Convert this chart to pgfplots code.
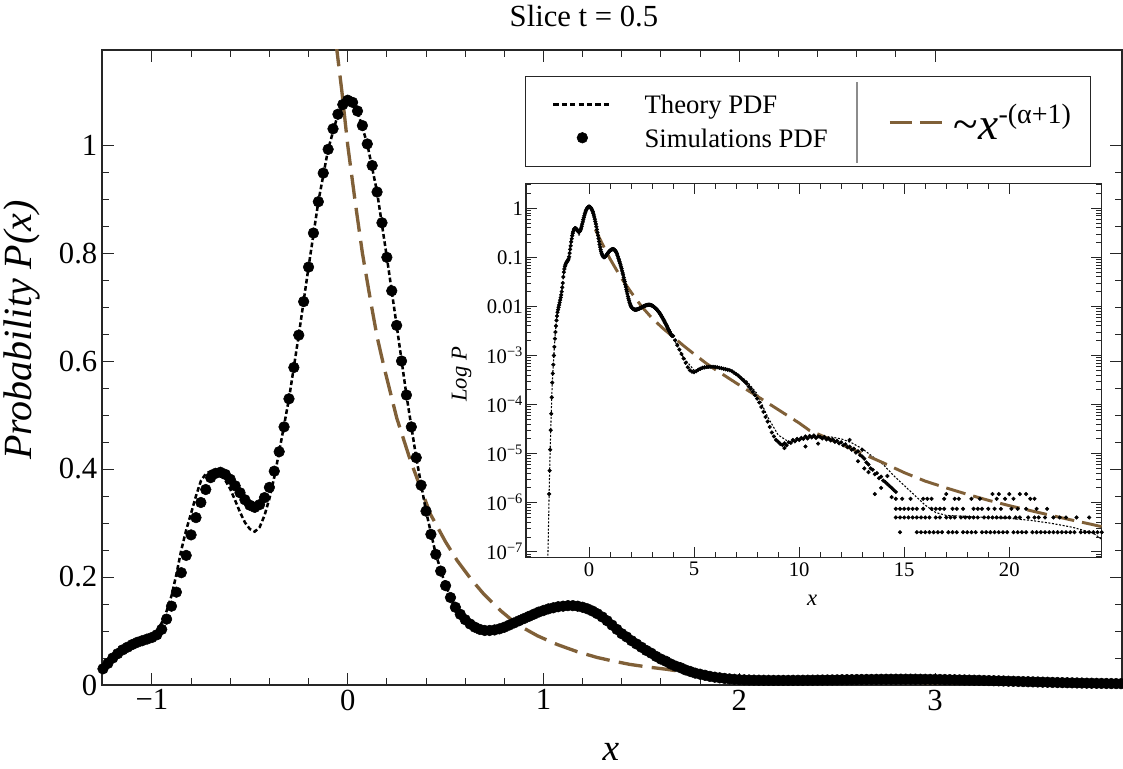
\documentclass[border=0pt]{standalone}
\usepackage{fontspec}
\setmainfont{Liberation Serif}
\usepackage{pgfplots}
\usepackage{pgfplotstable}
\pgfplotsset{compat=1.18}
\definecolor{plaw}{RGB}{128,96,56}
\pgfplotsset{
  thlegend/.style={legend image code/.code={\draw[##1, dash pattern=on 4pt off 2.3pt] (0pt,0pt) -- (43.5pt,0pt);}},
  simlegend/.style={legend image code/.code={\draw[##1, only marks, mark repeat=2, mark phase=2] plot coordinates {(0pt,0pt) (21.75pt,0pt) (43.5pt,0pt)};}},
  pllegend/.style={legend image code/.code={\draw[##1, dash pattern=on 16.5pt off 6pt] (0pt,0pt) -- (39pt,0pt);}},
}

% simulation PDF, main range
\pgfplotstableread{
x y
-1.250 0.030
-1.225 0.040
-1.200 0.050
-1.175 0.058
-1.150 0.065
-1.125 0.070
-1.100 0.075
-1.075 0.079
-1.050 0.082
-1.025 0.085
-1.000 0.088
-0.975 0.093
-0.950 0.103
-0.925 0.122
-0.900 0.146
-0.875 0.172
-0.850 0.208
-0.825 0.240
-0.800 0.278
-0.775 0.310
-0.750 0.338
-0.725 0.362
-0.700 0.384
-0.675 0.392
-0.650 0.394
-0.625 0.390
-0.600 0.381
-0.575 0.369
-0.550 0.356
-0.525 0.343
-0.500 0.333
-0.475 0.329
-0.450 0.334
-0.425 0.347
-0.400 0.366
-0.375 0.396
-0.350 0.432
-0.325 0.478
-0.300 0.530
-0.275 0.588
-0.250 0.648
-0.225 0.710
-0.200 0.774
-0.175 0.837
-0.150 0.895
-0.125 0.948
-0.100 0.992
-0.075 1.030
-0.050 1.057
-0.025 1.075
0.000 1.083
0.025 1.079
0.050 1.063
0.075 1.036
0.100 1.002
0.125 0.962
0.150 0.913
0.175 0.856
0.200 0.792
0.225 0.730
0.250 0.666
0.275 0.600
0.300 0.537
0.325 0.478
0.350 0.421
0.375 0.370
0.400 0.322
0.425 0.279
0.450 0.242
0.475 0.211
0.500 0.184
0.525 0.162
0.550 0.144
0.575 0.131
0.600 0.121
0.625 0.113
0.650 0.107
0.675 0.103
0.700 0.101
0.725 0.101
0.750 0.102
0.775 0.104
0.800 0.107
0.825 0.111
0.850 0.115
0.875 0.119
0.900 0.123
0.925 0.127
0.950 0.131
0.975 0.135
1.000 0.138
1.025 0.141
1.050 0.143
1.075 0.145
1.100 0.146
1.125 0.147
1.150 0.147
1.175 0.146
1.200 0.144
1.225 0.141
1.250 0.137
1.275 0.132
1.300 0.126
1.325 0.119
1.350 0.111
1.375 0.103
1.400 0.095
1.425 0.089
1.450 0.082
1.475 0.076
1.500 0.070
1.525 0.064
1.550 0.059
1.575 0.053
1.600 0.048
1.625 0.044
1.650 0.039
1.675 0.035
1.700 0.032
1.725 0.028
1.750 0.025
1.775 0.022
1.800 0.020
1.825 0.018
1.850 0.016
1.875 0.0145
1.900 0.0133
1.925 0.0122
1.950 0.0113
1.975 0.0106
2.000 0.0100
2.025 0.0096
2.050 0.0093
2.075 0.0091
2.100 0.0089
2.125 0.0088
2.150 0.0087
2.175 0.0086
2.200 0.0086
2.225 0.0086
2.250 0.0086
2.275 0.0087
2.300 0.0087
2.325 0.0088
2.350 0.0089
2.375 0.0090
2.400 0.0091
2.425 0.0092
2.450 0.0093
2.475 0.0094
2.500 0.0095
2.525 0.0097
2.550 0.0098
2.575 0.0099
2.600 0.0101
2.625 0.0102
2.650 0.0103
2.675 0.0104
2.700 0.0105
2.725 0.0106
2.750 0.0107
2.775 0.0107
2.800 0.0108
2.825 0.0108
2.850 0.0108
2.875 0.0108
2.900 0.0108
2.925 0.0107
2.950 0.0106
2.975 0.0105
3.000 0.0104
3.025 0.0103
3.050 0.0101
3.075 0.0099
3.100 0.0097
3.125 0.0095
3.150 0.0093
3.175 0.0091
3.200 0.0089
3.225 0.0087
3.250 0.0084
3.275 0.0082
3.300 0.0079
3.325 0.0077
3.350 0.0074
3.375 0.0071
3.400 0.0069
3.425 0.0066
3.450 0.0063
3.475 0.0061
3.500 0.0058
3.525 0.0056
3.550 0.0053
3.575 0.0051
3.600 0.0048
3.625 0.0046
3.650 0.0044
3.675 0.0042
3.700 0.0040
3.725 0.0038
3.750 0.0036
3.775 0.0034
3.800 0.0033
3.825 0.0031
3.850 0.0030
3.875 0.0028
3.900 0.0027
3.925 0.0026
3.950 0.0025
}\simmain

% theory PDF, main range
\pgfplotstableread{
x y
-1.25 0.030
-1.20 0.050
-1.15 0.065
-1.10 0.075
-1.05 0.082
-1.00 0.090
-0.975 0.100
-0.95 0.115
-0.925 0.137
-0.90 0.165
-0.875 0.205
-0.85 0.250
-0.825 0.287
-0.80 0.318
-0.775 0.350
-0.75 0.378
-0.725 0.391
-0.70 0.396
-0.675 0.396
-0.65 0.390
-0.625 0.379
-0.60 0.363
-0.575 0.342
-0.55 0.320
-0.525 0.301
-0.50 0.289
-0.475 0.284
-0.45 0.292
-0.425 0.314
-0.40 0.345
-0.375 0.385
-0.35 0.432
-0.30 0.530
-0.25 0.648
-0.20 0.774
-0.15 0.895
-0.10 0.992
-0.05 1.057
0.00 1.083
0.05 1.063
0.10 1.002
0.15 0.913
0.20 0.792
0.25 0.666
0.30 0.537
0.35 0.421
0.40 0.322
0.45 0.242
0.50 0.184
0.55 0.144
0.60 0.121
0.65 0.107
0.70 0.101
0.75 0.102
0.80 0.107
0.85 0.115
0.90 0.123
0.95 0.131
1.00 0.138
1.05 0.143
1.10 0.146
1.15 0.147
1.20 0.144
1.25 0.137
1.30 0.126
1.35 0.111
1.40 0.095
1.45 0.082
1.50 0.070
1.55 0.059
1.60 0.048
1.65 0.039
1.70 0.032
1.75 0.025
1.80 0.020
1.85 0.016
1.90 0.0133
1.95 0.0113
2.00 0.0100
2.10 0.0089
2.20 0.0086
2.30 0.0087
2.40 0.0091
2.50 0.0095
2.60 0.0101
2.70 0.0105
2.80 0.0108
2.90 0.0108
3.00 0.0104
3.10 0.0097
3.20 0.0089
3.30 0.0079
3.40 0.0069
3.50 0.0058
3.60 0.0048
3.70 0.0040
3.80 0.0033
3.90 0.0027
3.95 0.0025
}\thmain

% power law, main axis
\pgfplotstableread{
x y
-0.060 1.19
-0.030 1.10
0.000 1.00
0.040 0.89
0.075 0.80
0.117 0.711
0.150 0.645
0.186 0.588
0.250 0.495
0.321 0.415
0.423 0.316
0.500 0.265
0.560 0.230
0.630 0.196
0.696 0.168
0.780 0.138
0.866 0.112
0.970 0.091
1.070 0.075
1.170 0.062
1.274 0.051
1.360 0.044
1.444 0.038
1.540 0.033
1.631 0.029
1.720 0.024
1.801 0.020
1.900 0.017
2.000 0.0145
2.250 0.0100
2.500 0.0072
2.750 0.0054
3.000 0.0042
3.500 0.0027
3.950 0.0019
}\plmain

% inset: left tail of simulations
\pgfplotstableread{
x y
-1.900 1.5e-6
-1.875 4.5e-6
-1.850 1.2e-5
-1.825 3.0e-5
-1.800 6.5e-5
-1.775 1.4e-4
-1.750 2.8e-4
-1.725 4.3e-4
-1.700 6.5e-4
-1.675 1.0e-3
-1.650 1.5e-3
-1.625 2.2e-3
-1.600 3.0e-3
-1.575 4.0e-3
-1.550 5.2e-3
-1.525 6.4e-3
-1.500 7.6e-3
-1.475 8.6e-3
-1.450 9.6e-3
-1.425 1.07e-2
-1.400 1.20e-2
-1.375 1.35e-2
-1.350 1.52e-2
-1.325 1.72e-2
-1.300 2.00e-2
-1.275 2.45e-2
}\simleft

% inset: right part of simulations
\pgfplotstableread{
x y
4.0 2.51e-3
4.1 2.04e-3
4.2 1.62e-3
4.3 1.32e-3
4.4 1.07e-3
4.5 8.7e-4
4.6 7.1e-4
4.7 5.75e-4
4.8 5.0e-4
4.9 4.68e-4
5.0 4.57e-4
5.1 4.79e-4
5.2 5.13e-4
5.3 5.37e-4
5.4 5.62e-4
5.5 5.75e-4
5.6 5.82e-4
5.7 5.89e-4
5.8 5.89e-4
5.9 5.89e-4
6.0 5.82e-4
6.1 5.75e-4
6.2 5.62e-4
6.3 5.5e-4
6.4 5.37e-4
6.5 5.25e-4
6.6 5.13e-4
6.7 5.0e-4
6.8 4.79e-4
6.9 4.47e-4
7.0 4.17e-4
7.1 3.89e-4
7.2 3.55e-4
7.3 3.24e-4
7.4 2.95e-4
7.5 2.69e-4
7.6 2.34e-4
7.7 2.09e-4
7.8 1.82e-4
7.9 1.55e-4
8.0 1.32e-4
8.1 1.10e-4
8.2 8.9e-5
8.3 7.1e-5
8.4 5.6e-5
8.5 4.5e-5
8.6 3.5e-5
8.7 2.7e-5
8.8 2.24e-5
8.9 1.9e-5
9.0 1.74e-5
9.1 1.58e-5
9.2 1.51e-5
9.3 1.62e-5
9.4 1.48e-5
9.5 1.70e-5
9.6 1.66e-5
9.7 1.9e-5
9.8 1.78e-5
9.9 2.0e-5
10.0 1.9e-5
10.1 2.09e-5
10.2 2.0e-5
10.3 2.24e-5
10.4 2.04e-5
10.5 2.29e-5
10.6 2.14e-5
10.7 2.34e-5
10.8 2.09e-5
10.9 2.24e-5
11.0 2.19e-5
11.1 2.04e-5
11.2 2.19e-5
11.3 1.95e-5
11.4 2.04e-5
11.5 1.86e-5
11.6 1.95e-5
11.7 1.74e-5
11.8 1.82e-5
11.9 1.62e-5
12.0 1.70e-5
12.1 1.48e-5
12.2 1.55e-5
12.3 1.35e-5
12.4 1.38e-5
12.5 1.20e-5
12.6 1.26e-5
12.7 1.05e-5
12.8 1.12e-5
12.9 9.3e-6
13.0 8.7e-6
13.1 7.9e-6
13.2 6.6e-6
13.3 6.0e-6
13.4 5.0e-6
13.5 4.7e-6
13.6 3.8e-6
13.7 4.0e-6
13.8 3.16e-6
13.9 3.4e-6
14.0 2.82e-6
14.1 2.63e-6
14.2 2.4e-6
14.3 2.19e-6
14.4 2.0e-6
14.5 1.82e-6
14.6 1.66e-6
9.3 1.3e-5
10.3 1.4e-5
10.9 1.6e-5
12.4 1.9e-5
13.0 1.2e-5
13.3 4.2e-6
13.6 1.5e-6
13.9 2.0e-6
14.2 3.5e-6
14.4 1.3e-6
13.1 5.0e-6
12.8 7.0e-6
}\simright

% inset: discrete count levels of simulations
\pgfplotstableread{
x y
14.8 2.5e-7
15.6 2.5e-7
15.8 2.5e-7
16.0 2.5e-7
16.2 2.5e-7
16.4 2.5e-7
16.6 2.5e-7
16.8 2.5e-7
17.1 2.5e-7
17.3 2.5e-7
17.5 2.5e-7
17.8 2.5e-7
18.0 2.5e-7
18.2 2.5e-7
18.4 2.5e-7
18.7 2.5e-7
18.9 2.5e-7
19.1 2.5e-7
19.3 2.5e-7
19.5 2.5e-7
19.7 2.5e-7
19.9 2.5e-7
20.2 2.5e-7
20.4 2.5e-7
20.6 2.5e-7
20.8 2.5e-7
21.1 2.5e-7
21.3 2.5e-7
21.5 2.5e-7
21.7 2.5e-7
21.9 2.5e-7
22.1 2.5e-7
22.3 2.5e-7
22.5 2.5e-7
22.7 2.5e-7
22.9 2.5e-7
23.1 2.5e-7
23.4 2.5e-7
23.6 2.5e-7
23.8 2.5e-7
24.0 2.5e-7
24.2 2.5e-7
24.4 2.5e-7
14.6 5e-7
14.8 5e-7
15.0 5e-7
15.2 5e-7
15.4 5e-7
15.6 5e-7
15.8 5e-7
16.0 5e-7
16.2 5e-7
16.5 5e-7
16.7 5e-7
17.0 5e-7
17.2 5e-7
17.4 5e-7
17.7 5e-7
17.9 5e-7
18.1 5e-7
18.3 5e-7
18.5 5e-7
18.8 5e-7
19.0 5e-7
19.2 5e-7
19.4 5e-7
19.6 5e-7
19.8 5e-7
20.0 5e-7
20.3 5e-7
20.5 5e-7
20.9 5e-7
21.2 5e-7
21.4 5e-7
21.7 5e-7
22.1 5e-7
22.4 5e-7
22.7 5e-7
23.2 5e-7
23.8 5e-7
14.6 7.5e-7
14.8 7.5e-7
15.0 7.5e-7
15.2 7.5e-7
15.4 7.5e-7
15.6 7.5e-7
15.9 7.5e-7
16.3 7.5e-7
16.5 7.5e-7
16.7 7.5e-7
16.9 7.5e-7
17.3 7.5e-7
17.5 7.5e-7
17.8 7.5e-7
18.3 7.5e-7
18.5 7.5e-7
18.7 7.5e-7
19.0 7.5e-7
19.3 7.5e-7
19.6 7.5e-7
20.1 7.5e-7
20.4 7.5e-7
20.8 7.5e-7
21.3 7.5e-7
21.8 7.5e-7
14.6 1.2e-6
14.9 1.2e-6
15.3 1.2e-6
15.9 1.2e-6
16.1 1.2e-6
16.3 1.2e-6
16.9 1.2e-6
17.4 1.2e-6
17.6 1.2e-6
18.2 1.2e-6
18.6 1.2e-6
19.4 1.2e-6
19.8 1.2e-6
20.2 1.2e-6
21.0 1.2e-6
21.2 1.2e-6
17.0 1.5e-6
19.2 1.5e-6
19.5 1.5e-6
20.0 1.5e-6
20.5 1.5e-6
20.8 1.5e-6
}\simrows

% inset: theory tails
\pgfplotstableread{
x y
-1.970 5e-8
-1.950 1.2e-7
-1.925 4e-7
-1.900 1.5e-6
-1.875 4.5e-6
-1.850 1.2e-5
-1.800 6.5e-5
-1.750 2.8e-4
-1.700 6.5e-4
-1.650 1.5e-3
-1.600 3.0e-3
-1.550 5.2e-3
-1.500 7.6e-3
-1.450 9.6e-3
-1.400 1.2e-2
-1.350 1.52e-2
-1.300 2.0e-2
-1.250 3.0e-2
}\thleft

\pgfplotstableread{
x y
3.95 2.5e-3
4.0 2.3e-3
4.5 9.0e-4
5.0 5.0e-4
5.5 5.37e-4
6.0 6.03e-4
6.5 5.5e-4
7.0 4.37e-4
7.5 3.02e-4
8.0 1.66e-4
8.5 5.6e-5
9.0 2.4e-5
9.5 1.74e-5
10.0 1.9e-5
10.5 2.19e-5
11.0 2.24e-5
11.5 2.19e-5
12.0 2.0e-5
12.5 1.66e-5
13.0 1.26e-5
13.5 8.7e-6
14.0 6.0e-6
14.5 3.55e-6
15.0 2.24e-6
15.5 1.41e-6
16.0 8.9e-7
16.5 6.3e-7
17.0 5.5e-7
18.0 5.25e-7
19.0 5.0e-7
20.0 4.8e-7
21.0 4.37e-7
22.0 3.8e-7
23.0 3.16e-7
24.0 2.4e-7
24.4 1.78e-7
}\thright

% inset: power law
\pgfplotstableread{
x y
0.3 0.37
0.6 0.20
1.0 0.093
1.5 0.040
2.0 0.0195
2.5 0.0100
3.0 5.75e-3
3.5 3.63e-3
4.0 2.4e-3
4.5 1.58e-3
5.0 1.07e-3
5.58 6.9e-4
6.0 5.2e-4
7.0 2.75e-4
8.0 1.48e-4
9.0 7.9e-5
10.0 4.2e-5
10.5 2.95e-5
11.0 2.4e-5
12.0 1.55e-5
13.0 1.0e-5
14.0 6.5e-6
15.0 4.1e-6
16.0 2.75e-6
17.0 2.0e-6
18.0 1.48e-6
19.0 1.12e-6
20.0 8.7e-7
21.0 6.9e-7
22.0 5.5e-7
23.0 4.4e-7
24.0 3.55e-7
24.4 3.24e-7
}\plinset

\begin{document}
\begin{tikzpicture}
\path[use as bounding box] (0pt,0pt) rectangle (842.25pt,576pt);
% legend frame and separator
\draw[black!85, line width=0.75pt, fill=white] (393.75pt,451pt) rectangle (817.5pt,518.5pt);
\draw[black!45, line width=0.9pt] (642.75pt,453.75pt) -- (642.75pt,514.7pt);

\begin{axis}[
  at={(76.5pt,62.25pt)}, anchor=south west,
  scale only axis, width=765pt, height=476.25pt,
  xmin=-1.255, xmax=3.955, ymin=0, ymax=1.176,
  xtick={-1,0,1,2,3}, xticklabels={−1,0,1,2,3},
  minor x tick num=4,
  ytick={0,0.2,0.4,0.6,0.8,1}, yticklabels={0,0.2,0.4,0.6,0.8,1},
  minor y tick num=3,
  tick align=inside, major tick length=8.8pt, minor tick length=5pt,
  every tick/.style={black!85, line width=0.75pt},
  axis line style={black!85, line width=0.9pt},
  ticklabel style={font=\fontsize{23}{23}\selectfont},
  title={Slice t = 0.5},
  title style={font=\fontsize{23}{23}\selectfont, at={(axis description cs:0.4725,1)}, anchor=base, yshift=11.25pt},
  xlabel={\textit{x}},
  xlabel style={font=\fontsize{28}{28}\selectfont, at={(axis description cs:0.499,0)}, anchor=base, yshift=-56.25pt},
  ylabel={\textit{Probability P(x)}},
  ylabel style={font=\fontsize{30}{30}\selectfont, at={(axis description cs:-0.0784,0.559)}, anchor=center},
  legend cell align=left,
  legend style={draw=none, fill=none, at={(axis description cs:0.441,0.929)}, anchor=north west,
    inner xsep=0pt, inner ysep=0pt, nodes={inner sep=0pt, text depth=0pt},
    column sep=24pt, row sep=11pt, font=\fontsize{20}{20}\selectfont},
]
\addplot[plaw, line width=2.5pt, dash pattern=on 18pt off 7pt, forget plot] table {\plmain};
\addplot[black, line width=1.9pt, dash pattern=on 3.5pt off 2pt, thlegend] table {\thmain};
\addlegendentry{Theory PDF}
\addplot[only marks, mark=*, mark size=4pt, black, simlegend] table {\simmain};
\addlegendentry{Simulations PDF}
\end{axis}

\begin{axis}[
  at={(394.5pt,157.7pt)}, anchor=south west,
  scale only axis, width=431.8pt, height=280.8pt,
  ymode=log, xmin=-3, xmax=24.4, ymin=7.55e-8, ymax=3.23,
  axis background/.style={fill=white},
  xtick={0,5,10,15,20}, xticklabels={0,5,10,15,20}, minor x tick num=4,
  ytick={1,0.1,0.01,1e-3,1e-4,1e-5,1e-6,1e-7},
  yticklabels={1,0.1,0.01,10\textsuperscript{−3},10\textsuperscript{−4},10\textsuperscript{−5},10\textsuperscript{−6},10\textsuperscript{−7}},
  minor ytick={8e-8,9e-8,2e-7,3e-7,4e-7,5e-7,6e-7,7e-7,8e-7,9e-7,2e-6,3e-6,4e-6,5e-6,6e-6,7e-6,8e-6,9e-6,2e-5,3e-5,4e-5,5e-5,6e-5,7e-5,8e-5,9e-5,2e-4,3e-4,4e-4,5e-4,6e-4,7e-4,8e-4,9e-4,2e-3,3e-3,4e-3,5e-3,6e-3,7e-3,8e-3,9e-3,0.02,0.03,0.04,0.05,0.06,0.07,0.08,0.09,0.2,0.3,0.4,0.5,0.6,0.7,0.8,0.9,2,3},
  tick align=inside, major tick length=8pt, minor tick length=4pt,
  every tick/.style={black!85, line width=0.7pt},
  axis line style={black!85, line width=0.9pt},
  ticklabel style={font=\fontsize{15.5}{15.5}\selectfont},
  yticklabel style={inner xsep=2pt},
  xlabel={\textit{x}},
  xlabel style={font=\fontsize{17}{17}\selectfont, at={(axis description cs:0.497,-0.113)}, anchor=center},
  ylabel={\textit{Log P}},
  ylabel style={font=\fontsize{17}{17}\selectfont, at={(axis description cs:-0.112,0.49)}, anchor=center},
  legend cell align=left,
  legend style={draw=none, fill=none, at={(axis description cs:0.6288,1.1637)}, anchor=west,
    inner xsep=0pt, inner ysep=0pt, nodes={inner sep=0pt, text depth=0pt},
    column sep=8pt},
]
\addplot[black, line width=0.8pt, dash pattern=on 1.5pt off 1.2pt, forget plot] table {\thleft};
\addplot[black, line width=0.8pt, dash pattern=on 1.5pt off 1.2pt, forget plot] table {\thmain};
\addplot[black, line width=0.8pt, dash pattern=on 1.5pt off 1.2pt, forget plot] table {\thright};
\addplot[only marks, mark=*, mark size=1.35pt, black, forget plot] table {\simleft};
\addplot[only marks, mark=*, mark size=1.35pt, black, forget plot] table {\simmain};
\addplot[only marks, mark=*, mark size=1.35pt, black, forget plot] table {\simright};
\addplot[only marks, mark=*, mark size=1.35pt, black, forget plot] table {\simrows};
\addplot[plaw, line width=2.2pt, dash pattern=on 15pt off 6pt, pllegend] table {\plinset};
\addlegendentry{{\fontsize{34}{34}\selectfont\textasciitilde\textit{x}}\raisebox{12pt}{\fontsize{21}{21}\selectfont -(α+1)}}
\end{axis}
\end{tikzpicture}
\end{document}
